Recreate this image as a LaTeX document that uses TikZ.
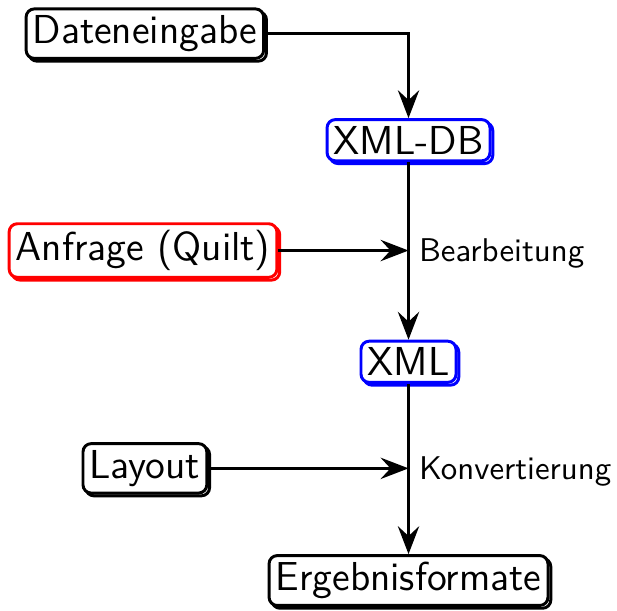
\documentclass[tikz,border=0pt]{standalone}
\usepackage{tikz}
\usetikzlibrary{arrows.meta,shadows}
\renewcommand{\familydefault}{\sfdefault}
\tikzset{
  bsrc/.style={draw=black,fill=white,line width=0.9pt,rounded corners=2.5pt,inner xsep=2pt,inner ysep=2pt,font=\fontsize{12.3}{15}\selectfont,copy shadow={shadow xshift=0.85pt,shadow yshift=-0.85pt}},
  bdat/.style={bsrc,draw=blue},
  bqry/.style={bsrc,draw=red},
  lbl/.style={font=\normalsize,anchor=west,inner xsep=3pt,yshift=-1pt},
  flow/.style={-{Stealth[length=8.5pt,width=6.5pt,inset=3pt]},thick},
}

\begin{document}
\begin{tikzpicture}
\useasboundingbox (0,0) rectangle (6.60,-6.53);
\node[bsrc] (din) at (1.55,-0.36) {Dateneingabe};
\node[bdat] (xdb) at (4.37,-1.50) {XML-DB};
\node[bqry] (qry) at (1.53,-2.68) {Anfrage (Quilt)};
\coordinate (jb) at (4.37,-2.68);
\node[bdat] (xml) at (4.37,-3.87) {XML};
\node[bsrc] (lay) at (1.55,-5.01) {Layout};
\coordinate (jk) at (4.37,-5.01);
\node[bsrc] (erg) at (4.37,-6.21) {Ergebnisformate};
\node[lbl] at (jb) {Bearbeitung};
\node[lbl] at (jk) {Konvertierung};
\draw[flow] (din) -| (xdb);
\draw[flow] (xdb) -- (xml);
\draw[flow] (qry) -- (jb);
\draw[flow] (xml) -- (erg);
\draw[flow] (lay) -- (jk);
\end{tikzpicture}
\end{document}
